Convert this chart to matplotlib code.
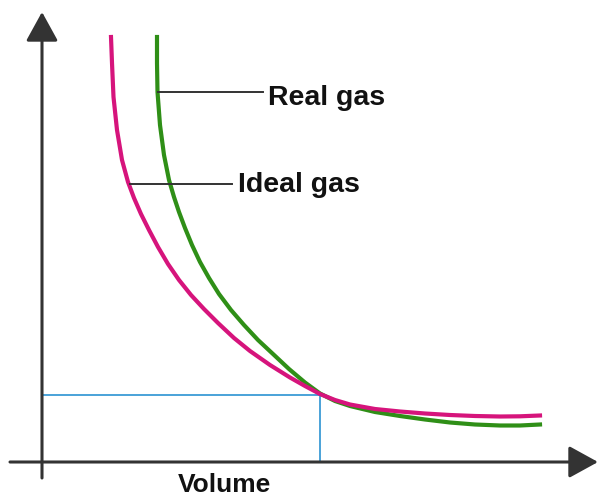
import matplotlib

matplotlib.use("Agg")
import matplotlib.pyplot as plt

# values (volume / pressure, arbitrary units)
ideal_v = [6.9, 7.0, 7.15, 7.5, 8.0, 8.6, 9.2, 9.9, 10.7, 11.6, 12.6, 13.7, 14.9, 16.2,
           17.6, 19.2, 20.8, 22.8, 24.8, 26.3, 27.8, 29.3, 30.8, 33.3, 35.8, 38.3,
           40.8, 43.3, 45.8, 47.8, 49.8]
ideal_p = [42.5, 39.9, 36.5, 33.2, 30.2, 28.0, 26.4, 24.8, 23.2, 21.5, 19.8, 18.2, 16.7,
           15.3, 13.9, 12.4, 11.1, 9.7, 8.45, 7.6, 6.8, 6.2, 5.75, 5.3, 5.05, 4.85, 4.7,
           4.6, 4.55, 4.57, 4.65]

real_v = [11.5, 11.5, 11.55, 11.8, 12.2, 12.7, 13.2, 13.7, 14.3, 15.0, 15.8, 16.7, 17.7,
          18.9, 20.2, 21.6, 23.1, 24.7, 26.3, 27.8, 29.3, 30.8, 33.3, 35.8, 38.3, 40.8,
          43.3, 45.8, 47.8, 49.8]
real_p = [42.5, 39.9, 37.0, 33.7, 30.7, 28.2, 26.5, 25.0, 23.4, 21.7, 20.0, 18.4, 16.8,
          15.2, 13.7, 12.2, 10.8, 9.3, 7.95, 6.85, 6.1, 5.6, 5.0, 4.6, 4.25, 3.95, 3.75,
          3.65, 3.65, 3.75]

cross_v, cross_p = 27.8, 6.75

PINK = "#d6147c"
GREEN = "#2f8f17"
BLUE = "#3b9bd6"
AXIS = "#333333"
TEXT = "#111111"

fig = plt.figure(figsize=(5.99, 4.97), dpi=100)
ax = fig.add_axes([0, 0, 1, 1])
ax.set_xlim(-4.2, 55.7)
ax.set_ylim(-3.5, 46.2)
ax.axis("off")

# axes with arrow heads
arrow = dict(arrowstyle="-|>,head_length=1.0,head_width=0.55", mutation_scale=18,
             lw=2.2, color=AXIS, shrinkA=0, shrinkB=0)
ax.annotate("", xy=(0, 45.0), xytext=(0, -1.6), arrowprops=arrow)
ax.annotate("", xy=(55.6, 0), xytext=(-3.2, 0), arrowprops=arrow)

# reference lines at the crossing point
ax.plot([0, cross_v], [cross_p, cross_p], color=BLUE, lw=1.3, solid_capstyle="butt")
ax.plot([cross_v, cross_v], [0, cross_p], color=BLUE, lw=1.3, solid_capstyle="butt")

ax.plot(real_v, real_p, color=GREEN, lw=3.0, solid_joinstyle="round")
ax.plot(ideal_v, ideal_p, color=PINK, lw=3.0, solid_joinstyle="round")

# labels with leader lines
ax.plot([11.55, 22.1], [37.0, 37.0], color=AXIS, lw=1.4)
ax.text(22.6, 35.7, "Real gas", fontsize=20.5, fontweight="bold",
        family="Liberation Sans", va="baseline", ha="left", color=TEXT)
ax.plot([8.8, 19.0], [27.8, 27.8], color=AXIS, lw=1.4)
ax.text(19.6, 27.0, "Ideal gas", fontsize=20.5, fontweight="bold",
        family="Liberation Sans", va="baseline", ha="left", color=TEXT)

ax.text(18.2, -3.0, "Volume", fontsize=19, fontweight="bold",
        family="Liberation Sans", va="baseline", ha="center", color=TEXT)

fig.savefig("out.png", dpi=100)
